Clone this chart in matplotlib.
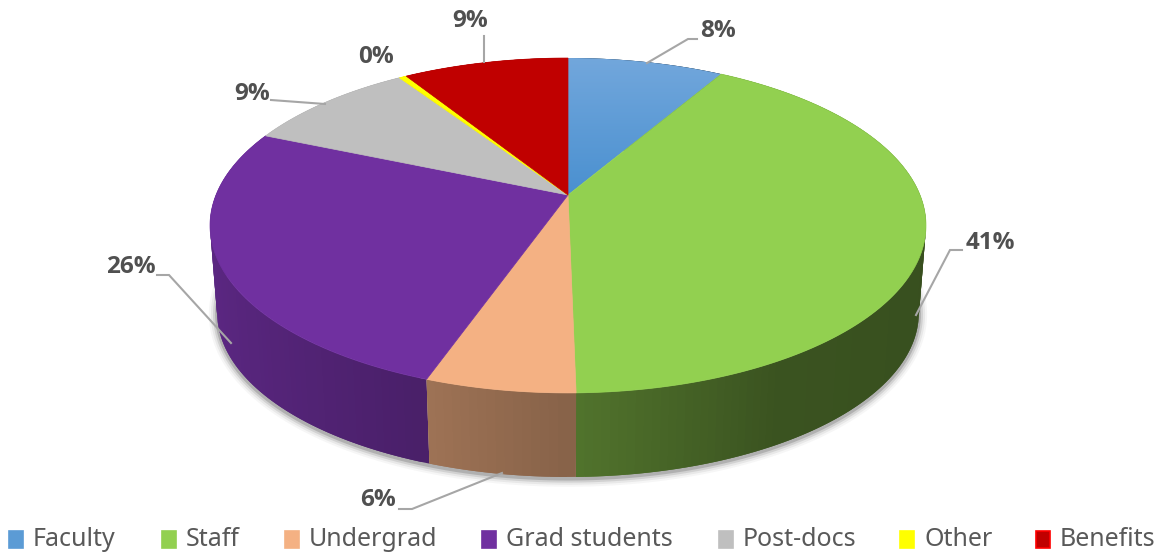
import numpy as np
import matplotlib
matplotlib.use("Agg")
import matplotlib.pyplot as plt
from matplotlib.collections import PolyCollection
from matplotlib.patches import Polygon, Rectangle

categories = ["Faculty", "Staff", "Undergrad", "Grad students", "Post-docs", "Other", "Benefits"]
values = [8.4, 41.3, 5.7, 26.0, 9.3, 0.4, 8.9]
colors = ["#5b9bd5", "#92d050", "#f4b183", "#7030a0", "#bfbfbf", "#ffff00", "#c00000"]

# where the legend items and value labels sit, in pixels
legend_x = [9, 162, 285, 482, 719, 900, 1036]
label_pos = [(718, 31), (990, 243), (378, 500), (131, 267), (252, 94), (376, 57), (470, 21)]
leaders = [
    [(647, 63), (688, 39), (697, 39)],
    [(916, 315), (950, 250), (962, 250)],
    [(502, 473), (412, 509), (399, 509)],
    [(231, 343), (169, 275), (157, 275)],
    [(325, 104), (271, 100)],
    [],
    [(484, 62), (484, 36)],
]

# perspective of the disc
CX, CY = 568, 195
R, S, K = 352, 161.9, 0.182
DEPTH, SHRINK = 88, 0.98

# side wall brightness against sin(angle), left to right
shade_u = [-1.0, -0.39, 0.0, 0.5, 1.0]
shade_f = [0.82, 0.67, 0.56, 0.40, 0.38]


def top_xy(a):
    w = 1 + K * np.cos(a)
    return CX + R * np.sin(a) / w, CY - S * np.cos(a) / w


def bottom_xy(a):
    w = 1 + K * np.cos(a)
    return CX + SHRINK * R * np.sin(a) / w, CY + DEPTH - SHRINK * S * np.cos(a) / w


edges = np.cumsum([0] + values) / sum(values) * 2 * np.pi

fig = plt.figure(figsize=(11.62, 5.55), dpi=100)
ax = fig.add_axes([0, 0, 1, 1])
ax.set_xlim(0, 1162)
ax.set_ylim(555, 0)
ax.axis("off")

# soft shadow under the bottom rim
rim = np.linspace(np.pi * 0.42, np.pi * 1.62, 300)
bx, by = bottom_xy(rim)
for lw, alpha in [(12, 0.04), (9, 0.07), (6, 0.12), (3, 0.2)]:
    ax.plot(bx, by + 1.5, color="#303030", lw=lw, alpha=alpha, zorder=1, solid_capstyle="round")

# side walls, far parts first, each strip overlapping the next so no seams show
quads, quad_colors, depth = [], [], []
for i, col in enumerate(colors):
    base = np.array(matplotlib.colors.to_rgb(col))
    n = max(int((edges[i + 1] - edges[i]) / 0.02), 2)
    ang = np.linspace(edges[i], edges[i + 1], n + 1)
    for j, (a0, a1) in enumerate(zip(ang[:-1], ang[1:])):
        far = ang[min(j + 2, n)]
        arc = np.linspace(a0, far, 5)
        tx, ty = top_xy(arc)
        bx, by = bottom_xy(arc[::-1])
        quads.append(list(zip(tx, ty)) + list(zip(bx, by)))
        quad_colors.append(base * np.interp(np.sin((a0 + a1) / 2), shade_u, shade_f))
        depth.append(np.cos((a0 + a1) / 2))
order = np.argsort(depth)[::-1]
walls = PolyCollection(
    [quads[j] for j in order],
    facecolors=[quad_colors[j] for j in order],
    edgecolors="none",
    zorder=2,
)
ax.add_collection(walls)

# top of the pie
for i, col in enumerate(colors):
    ang = np.linspace(edges[i], edges[i + 1], max(int((edges[i + 1] - edges[i]) / 0.01), 2))
    px, py = top_xy(ang)
    verts = [(CX, CY)] + list(zip(px, py))
    if categories[i] == "Faculty":
        # this slice fades from the centre outward
        clip = Polygon(verts, closed=True, transform=ax.transData, fc="none", ec="none")
        ax.add_patch(clip)
        grad = np.linspace(0, 1, 64).reshape(-1, 1)
        im = ax.imshow(
            grad,
            extent=(px.min() - 2, px.max() + 2, CY + 1, py.min() - 1),
            cmap=matplotlib.colors.LinearSegmentedColormap.from_list("fac", ["#72a7dc", "#4a90d0"]),
            aspect="auto",
            zorder=3,
        )
        im.set_clip_path(clip)
    else:
        ax.add_patch(Polygon(verts, closed=True, fc=col, ec=col, lw=0.5, zorder=3))
ax.set_xlim(0, 1162)
ax.set_ylim(555, 0)

# value labels and leader lines
for pos, val, line in zip(label_pos, values, leaders):
    ax.text(pos[0], pos[1], f"{val:.0f}%", ha="center", va="center", fontsize=17.5, fontweight="bold",
            family="Open Sans", color="#505050", zorder=6)
    if line:
        lx, ly = zip(*line)
        ax.plot(lx, ly, color="#a6a6a6", lw=1.5, zorder=5, solid_joinstyle="miter")

# legend along the bottom
for x, name, col in zip(legend_x, categories, colors):
    edge = "#ff0000" if name == "Benefits" else col
    ax.add_patch(Rectangle((x, 531), 14, 17, fc=col, ec=edge, lw=1.2, zorder=4))
    ax.text(x + 24, 539, name, ha="left", va="center", fontsize=18, family="Noto Sans",
            color="#595959", zorder=4)

fig.savefig("out.png", dpi=100)
